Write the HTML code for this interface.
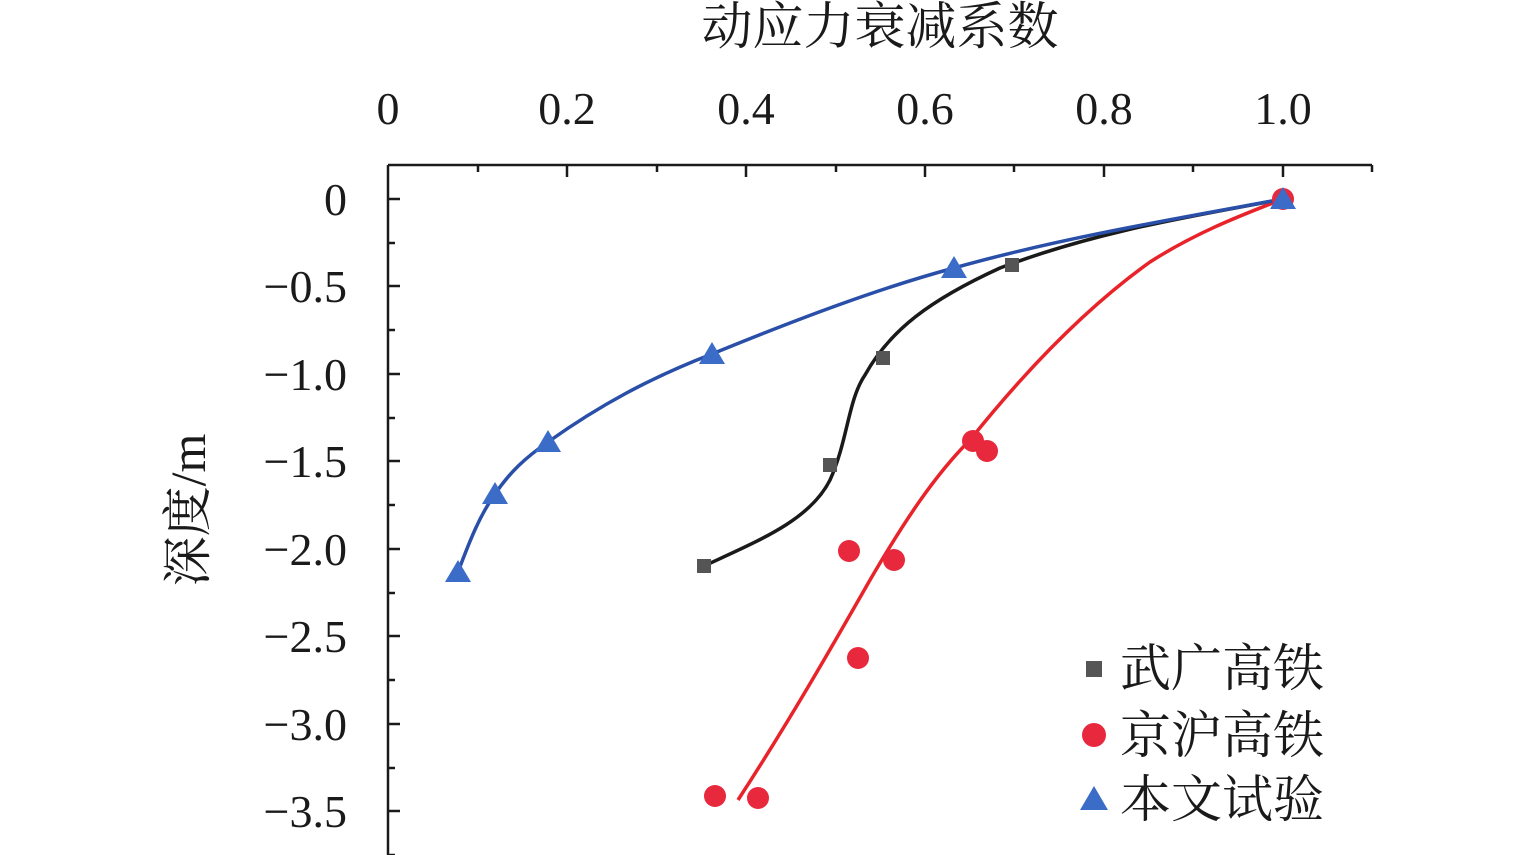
<!DOCTYPE html>
<html><head><meta charset="utf-8"><style>
html,body{margin:0;padding:0;background:#fff;}
svg{display:block;}
text{font-family:"Liberation Serif","Noto Serif CJK SC",serif;fill:#1a1a1a;}
</style></head><body>
<svg width="1535" height="855" viewBox="0 0 1535 855" xmlns="http://www.w3.org/2000/svg">
<text x="880" y="44" font-size="51" text-anchor="middle">动应力衰减系数</text>
<g font-size="46" text-anchor="middle">
<text x="388" y="124">0</text><text x="567" y="124">0.2</text><text x="746" y="124">0.4</text>
<text x="925" y="124">0.6</text><text x="1104" y="124">0.8</text><text x="1283" y="124">1.0</text>
</g>
<g font-size="46" text-anchor="end">
<text x="347" y="215">0</text><text x="347" y="302">−0.5</text><text x="347" y="390">−1.0</text>
<text x="347" y="477">−1.5</text><text x="347" y="565">−2.0</text><text x="347" y="652">−2.5</text>
<text x="347" y="740">−3.0</text><text x="347" y="827">−3.5</text>
</g>
<text transform="translate(205,510) rotate(-90)" font-size="50" text-anchor="middle">深度/m</text>
<g stroke="#1a1a1a" stroke-width="2.5" fill="none">
<path d="M388 165H1372M388 165V855"/>
<path d="M567 165v12M746 165v12M925 165v12M1104 165v12M1283 165v12
M478 165v7M657 165v7M836 165v7M1014 165v7M1193 165v7M1372 165v7
M388 199h12M388 286h12M388 374h12M388 461h12M388 549h12M388 636h12M388 724h12M388 811h12
M388 243h7M388 330h7M388 418h7M388 505h7M388 593h7M388 680h7M388 768h7M388 855h7"/>
</g>
<path d="M704 566 C760 540 810 520 830 480 C848 440 848 400 865 375 C890 330 930 300 1000 268 C1100 230 1200 215 1283 199" stroke="#1a1a1a" stroke-width="3.5" fill="none"/>
<path d="M738 800 C790 720 830 650 870 580 C905 520 935 475 970 440 C1030 365 1090 305 1150 262 C1200 230 1250 212 1283 199" stroke="#e8232a" stroke-width="3.5" fill="none"/>
<path d="M458 572 C470 540 480 515 495 494 C510 472 525 458 548 442 C600 405 650 378 712 354 C800 318 880 288 954 268 C1060 238 1180 218 1283 199" stroke="#2a4fa8" stroke-width="3.5" fill="none"/>
<g fill="#555">
<rect x="1276" y="192" width="14" height="14"/><rect x="1005" y="258" width="14" height="14"/>
<rect x="876" y="351" width="14" height="14"/><rect x="823" y="458" width="14" height="14"/>
<rect x="697" y="559" width="14" height="14"/>
</g>
<g fill="#e8283c">
<circle cx="1283" cy="199" r="11"/><circle cx="973" cy="441" r="11"/><circle cx="987" cy="451" r="11"/>
<circle cx="849" cy="551" r="11"/><circle cx="894" cy="560" r="11"/><circle cx="858" cy="658" r="11"/>
<circle cx="715" cy="796" r="11"/><circle cx="758" cy="798" r="11"/>
</g>
<g fill="#3a6cc8">
<path d="M1283 187l13 22h-26z"/><path d="M954 256l13 22h-26z"/><path d="M712 342l13 22h-26z"/>
<path d="M548 430l13 22h-26z"/><path d="M495 482l13 22h-26z"/><path d="M458 560l13 22h-26z"/>
</g>
<rect x="1086" y="661" width="16" height="16" fill="#555"/>
<circle cx="1094" cy="735" r="12" fill="#e8283c"/>
<path d="M1094 786l14 24h-28z" fill="#3a6cc8"/>
<g font-size="51">
<text x="1120" y="686">武广高铁</text><text x="1120" y="753">京沪高铁</text><text x="1120" y="817">本文试验</text>
</g>
</svg>
</body></html>
